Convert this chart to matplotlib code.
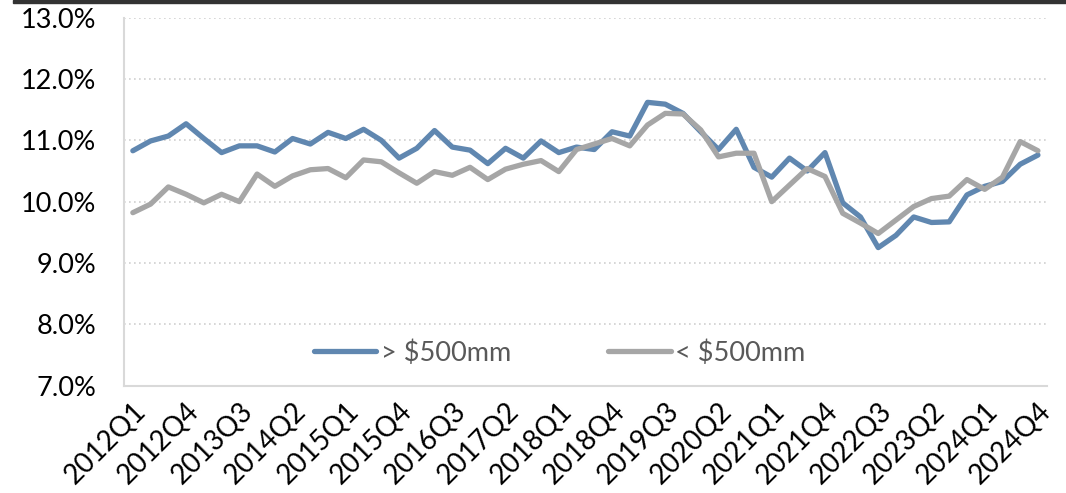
import matplotlib
matplotlib.use("Agg")
import matplotlib.pyplot as plt
from matplotlib.patches import Rectangle
from matplotlib.ticker import FuncFormatter

plt.rcParams["font.family"] = ["Lato", "DejaVu Sans"]

# quarters 2012Q1 .. 2024Q4
quarters = [f"{y}Q{q}" for y in range(2012, 2025) for q in range(1, 5)]

above_500 = [
    10.83, 10.99, 11.07, 11.27, 11.03, 10.80, 10.91, 10.91, 10.81, 11.03,
    10.94, 11.13, 11.03, 11.18, 11.00, 10.71, 10.87, 11.16, 10.89, 10.84,
    10.62, 10.87, 10.71, 10.99, 10.80, 10.89, 10.85, 11.14, 11.07, 11.62,
    11.59, 11.44, 11.14, 10.85, 11.18, 10.56, 10.40, 10.71, 10.50, 10.80,
    9.98, 9.75, 9.25, 9.45, 9.75, 9.66, 9.67, 10.11, 10.25, 10.33,
    10.61, 10.76,
]
below_500 = [
    9.82, 9.96, 10.24, 10.12, 9.98, 10.12, 10.00, 10.45, 10.25, 10.42,
    10.52, 10.54, 10.39, 10.68, 10.65, 10.47, 10.30, 10.49, 10.43, 10.56,
    10.36, 10.53, 10.61, 10.67, 10.49, 10.85, 10.94, 11.03, 10.91, 11.25,
    11.44, 11.43, 11.17, 10.73, 10.79, 10.79, 10.00, 10.27, 10.54, 10.41,
    9.81, 9.65, 9.48, 9.70, 9.92, 10.05, 10.09, 10.36, 10.20, 10.40,
    10.98, 10.83,
]

series_names = ["> $500mm", "< $500mm"]
series_colors = ["#6087B0", "#A6A6A6"]

fig = plt.figure(figsize=(10.66, 4.93), dpi=100)
ax = fig.add_axes([0.1163, 0.218, 0.8657, 0.746])

x = list(range(len(quarters)))
for vals, name, color in zip([above_500, below_500], series_names, series_colors):
    ax.plot(x, vals, color=color, linewidth=3.8, label=name,
            solid_joinstyle="round", solid_capstyle="round")

ax.set_xlim(-0.5, len(quarters) - 0.5)
ax.set_ylim(7, 13)
ax.set_yticks([7, 8, 9, 10, 11, 12, 13])
ax.yaxis.set_major_formatter(FuncFormatter(lambda v, p: f"{v:.1f}%"))
ax.grid(axis="y", linestyle=(0, (1, 2)), color="#D0D0D0", linewidth=1.2)
ax.set_axisbelow(True)

tick_pos = x[::3]
ax.set_xticks(tick_pos)
ax.set_xticklabels([quarters[i] for i in tick_pos], rotation=45,
                   ha="right", va="top", rotation_mode="anchor")

for side in ["top", "right"]:
    ax.spines[side].set_visible(False)
for side in ["left", "bottom"]:
    ax.spines[side].set_color("#D9D9D9")
    ax.spines[side].set_linewidth(1.5)

ax.tick_params(axis="both", length=0, colors="black")
ax.tick_params(axis="y", pad=20, labelsize=19.5)
ax.tick_params(axis="x", pad=9, labelsize=20)

leg = ax.legend(loc="center", bbox_to_anchor=(0.472, 0.088), ncol=2,
                frameon=False, fontsize=19.5, handlelength=2.3,
                handletextpad=0.15, columnspacing=3.6)
for text in leg.get_texts():
    text.set_color("#595959")

# dark strip along the top edge of the screenshot
fig.patches.append(Rectangle((0.012, 0.994), 0.988, 0.006,
                             transform=fig.transFigure, color="#333333"))

fig.savefig("out.png", dpi=100)
